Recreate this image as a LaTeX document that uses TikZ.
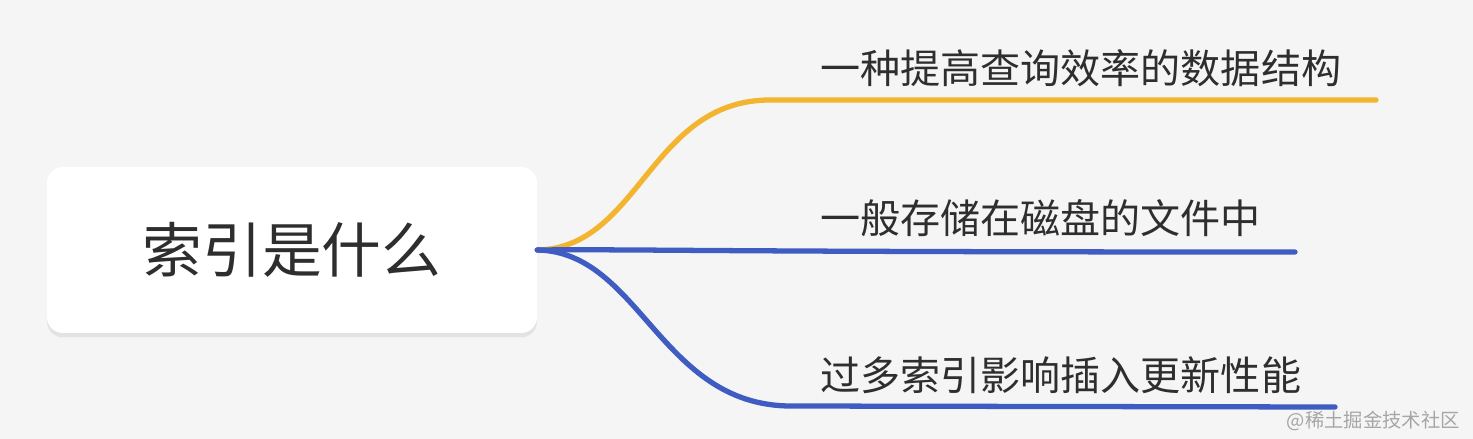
\documentclass[tikz,border=0pt]{standalone}
\usepackage{fontspec}
\newfontfamily\cjk{Noto Sans CJK SC}
\usetikzlibrary{shadows}
\definecolor{bg}{HTML}{F5F5F5}
\definecolor{txt}{HTML}{2E2E2E}
\definecolor{gold}{HTML}{F3B42F}
\definecolor{blue}{HTML}{3E5CC1}
\begin{document}
\begin{tikzpicture}[x=0.02cm,y=-0.02cm,
root/.style={fill=white,rounded corners=9pt,minimum width=9.8cm,minimum height=3.32cm,text=txt,font=\cjk\fontsize{34}{40}\selectfont,drop shadow={shadow xshift=0pt,shadow yshift=-2.5pt,opacity=0.07,fill=black}},
leaf/.style={anchor=west,inner sep=0pt,text=txt,font=\cjk\fontsize{22.8}{27}\selectfont},
branch/.style={line width=3pt,line cap=round}]
\fill[bg](0,0)rectangle(1473,439);
\useasboundingbox(0,0)rectangle(1473,439);
\node[root](r)at(292,250){索引是什么};
\node[leaf](a)at(820,68){一种提高查询效率的数据结构};
\node[leaf](b)at(820,218){一般存储在磁盘的文件中};
\node[leaf](c)at(820,375){过多索引影响插入更新性能};
\coordinate(ae)at(1376,100);
\coordinate(be)at(1295,252);
\coordinate(ce)at(1335,407);
\draw[branch,gold](r.east)..controls(640,248)and(650,100)..(770,100)--(ae);
\draw[branch,blue](r.east)..controls(640,249)and(700,252)..(be);
\draw[branch,blue](r.east)..controls(640,252)and(660,405)..(790,406)--(ce);
\node[anchor=east,text=gray!70,font=\cjk\fontsize{11}{12}\selectfont](w)at(1466,421){@稀土掘金技术社区};
\end{tikzpicture}
\end{document}
